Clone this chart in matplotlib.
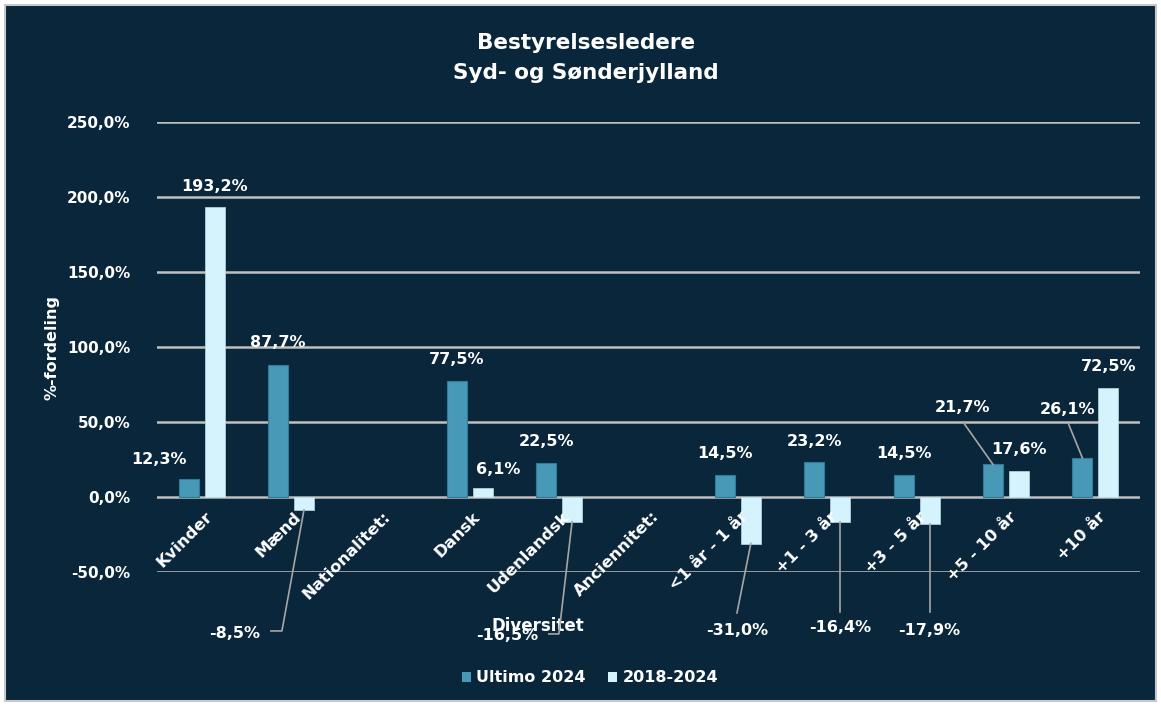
import numpy as np
import matplotlib.pyplot as plt
from matplotlib.patches import Patch, Rectangle

plt.rcParams['font.family'] = ['DejaVu Sans']
plt.rcParams['font.weight'] = 'bold'

# data
categories = ['Kvinder', 'Mænd', 'Nationalitet:', 'Dansk', 'Udenlandsk', 'Anciennitet:',
              '<1 år - 1 år', '+1 - 3 år', '+3 - 5 år', '+5 - 10 år', '+10 år']
ultimo_2024 = [12.3, 87.7, np.nan, 77.5, 22.5, np.nan, 14.5, 23.2, 14.5, 21.7, 26.1]
change_2018_2024 = [193.2, -8.5, np.nan, 6.1, -16.5, np.nan, -31.0, -16.4, -17.9, 17.6, 72.5]
series_names = ['Ultimo 2024', '2018-2024']
y_ticks = [-50, 0, 50, 100, 150, 200, 250]

bg = '#0a263b'
dark_col = '#4899b8'
light_col = '#d4f3fd'
grid_col = '#bfbfbf'
leader_col = '#a6a6a6'

# label placement: (dx from bar center, y) per series, plus optional leader start points
label_pos_dark = [(-0.33, 24.7), (0, 102.7), None, (0, 92), (0, 36.7), None,
                  (0, 28.7), (0, 37.3), (0, 28.7), (-0.34, 60), (-0.17, 58)]
label_pos_light = [(0, 207.3), (-0.78, -90.7), None, (0.17, 18), (-0.73, -92), None,
                   (-0.15, -88.7), (0, -87.3), (0, -88.7), (0, 32), (0, 87)]
leaders_dark = {9: [(8.52, 50)], 10: [(9.70, 48.7)]}
leaders_light = {1: [(0.775, -89.3), (0.898, -89.3)],
                 4: [(3.885, -91.3), (3.997, -91.3)],
                 6: [(5.99, -77.3)], 7: [(7.145, -76.7)], 8: [(8.145, -76.7)]}


def fmt(v):
    return f"{v:.1f}".replace('.', ',') + '%'


fig = plt.figure(figsize=(11.61, 7.06), dpi=100)
fig.patch.set_facecolor('white')
fig.patches.append(Rectangle((5 / 1161, 5 / 706), 1151 / 1161, 696 / 706,
                             transform=fig.transFigure, facecolor=bg,
                             edgecolor='#c8c8c8', linewidth=1.5, zorder=-1))

ax = fig.add_axes([157 / 1161, 1 - 572 / 706, 983 / 1161, 450 / 706])
ax.set_zorder(2)
ax.patch.set_alpha(0)

x = np.arange(len(categories))
w = 0.224
off = 0.145
ax.bar(x - off, ultimo_2024, w, color=dark_col, edgecolor='#2f7b98', linewidth=0.8, zorder=3)
ax.bar(x + off, change_2018_2024, w, color=light_col, edgecolor='#b9dbe6', linewidth=0.5, zorder=3)

ax.set_xlim(-0.5, len(categories) - 0.5)
ax.set_ylim(-50, 250)
ax.set_yticks(y_ticks)
ax.set_yticklabels([fmt(t) for t in y_ticks], color='white', fontsize=11, fontweight='bold')
ax.set_xticks([])
ax.tick_params(axis='y', length=0, pad=19)
ax.yaxis.grid(True, color=grid_col, linewidth=1.8, zorder=1)
for s in ax.spines.values():
    s.set_visible(False)

# category labels rotated next to the zero line
for i, c in enumerate(categories):
    ax.text(i + 0.03, -8, c, rotation=45, rotation_mode='anchor', ha='right', va='top',
            color='white', fontsize=11.8, fontweight='bold', zorder=4, clip_on=False)
ax.text(3.76, -86, 'Diversitet', ha='center', va='center', color='white',
        fontsize=12, fontweight='bold', zorder=4, clip_on=False)

# data labels and leader lines
for vals, pos, leaders, sign in [(ultimo_2024, label_pos_dark, leaders_dark, -1),
                                 (change_2018_2024, label_pos_light, leaders_light, 1)]:
    for i, v in enumerate(vals):
        if np.isnan(v):
            continue
        bx = i + sign * off
        dx, ly = pos[i]
        ax.text(bx + dx, ly, fmt(v), ha='center', va='center', color='white',
                fontsize=11.5, fontweight='bold', zorder=5, clip_on=False)
        if i in leaders:
            pts = leaders[i] + [(bx, v)]
            ax.plot([p[0] for p in pts], [p[1] for p in pts], color=leader_col,
                    linewidth=1.2, zorder=4, clip_on=False)

fig.text(0.505, 1 - 43 / 706, 'Bestyrelsesledere', ha='center', va='center',
         color='white', fontsize=15.5, fontweight='bold')
fig.text(0.505, 1 - 73 / 706, 'Syd- og Sønderjylland', ha='center', va='center',
         color='white', fontsize=15.5, fontweight='bold')
fig.text(52 / 1161, 1 - 347 / 706, '%-fordeling', rotation=90, ha='center', va='center',
         color='white', fontsize=11.5, fontweight='bold')

handles = [Patch(facecolor=dark_col, edgecolor='none'), Patch(facecolor=light_col, edgecolor='none')]
fig.legend(handles, series_names, loc='center', bbox_to_anchor=(0.508, 1 - 678 / 706),
           ncol=2, frameon=False, handlelength=0.6, handleheight=0.6, handletextpad=0.3,
           columnspacing=1.4, labelcolor='white', prop={'weight': 'bold', 'size': 11.5})

fig.savefig('out.png', dpi=100, facecolor=fig.get_facecolor())
